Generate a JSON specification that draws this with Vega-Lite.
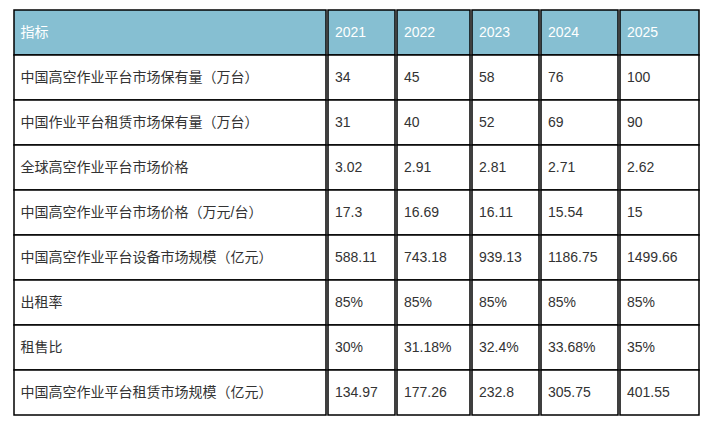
{
  "$schema": "https://vega.github.io/schema/vega-lite/v6.json",
  "padding": {"left": 13, "top": 9, "right": 14, "bottom": 10},
  "background": "white",
  "spacing": 0,
  "data": {"values": [
    {"name": "指标", "c2021": "2021", "c2022": "2022", "c2023": "2023", "c2024": "2024", "c2025": "2025"},
    {"name": "中国高空作业平台市场保有量（万台）", "c2021": "34", "c2022": "45", "c2023": "58", "c2024": "76", "c2025": "100"},
    {"name": "中国作业平台租赁市场保有量（万台）", "c2021": "31", "c2022": "40", "c2023": "52", "c2024": "69", "c2025": "90"},
    {"name": "全球高空作业平台市场价格", "c2021": "3.02", "c2022": "2.91", "c2023": "2.81", "c2024": "2.71", "c2025": "2.62"},
    {"name": "中国高空作业平台市场价格（万元/台）", "c2021": "17.3", "c2022": "16.69", "c2023": "16.11", "c2024": "15.54", "c2025": "15"},
    {"name": "中国高空作业平台设备市场规模（亿元）", "c2021": "588.11", "c2022": "743.18", "c2023": "939.13", "c2024": "1186.75", "c2025": "1499.66"},
    {"name": "出租率", "c2021": "85%", "c2022": "85%", "c2023": "85%", "c2024": "85%", "c2025": "85%"},
    {"name": "租售比", "c2021": "30%", "c2022": "31.18%", "c2023": "32.4%", "c2024": "33.68%", "c2025": "35%"},
    {"name": "中国高空作业平台租赁市场规模（亿元）", "c2021": "134.97", "c2022": "177.26", "c2023": "232.8", "c2024": "305.75", "c2025": "401.55"}
  ]},
  "hconcat": [
    {"width": 312, "height": 405, "layer": [
      {"mark": {"type": "rect", "stroke": "#000000", "strokeWidth": 1.5}, "encoding": {"x": {"value": 0}, "x2": {"value": "width"}, "y": {"field": "name", "type": "nominal", "sort": null, "axis": null, "scale": {"paddingInner": 0, "paddingOuter": 0}}, "fill": {"condition": {"test": "datum.name === '指标'", "value": "#86bfd2"}, "value": "#ffffff"}}},
      {"mark": {"type": "text", "align": "left", "baseline": "middle", "fontSize": 14, "font": "Liberation Sans, Noto Sans CJK SC"}, "encoding": {"x": {"value": 6.5}, "y": {"field": "name", "type": "nominal", "sort": null, "axis": null}, "text": {"field": "name"}, "color": {"condition": {"test": "datum.name === '指标'", "value": "#ffffff"}, "value": "#333333"}}}
    ]},
    {"width": 67, "height": 405, "layer": [
      {"mark": {"type": "rect", "stroke": "#000000", "strokeWidth": 1.5}, "encoding": {"x": {"value": 0}, "x2": {"value": "width"}, "y": {"field": "name", "type": "nominal", "sort": null, "axis": null, "scale": {"paddingInner": 0, "paddingOuter": 0}}, "fill": {"condition": {"test": "datum.name === '指标'", "value": "#86bfd2"}, "value": "#ffffff"}}},
      {"mark": {"type": "text", "align": "left", "baseline": "middle", "fontSize": 14, "font": "Liberation Sans, Noto Sans CJK SC"}, "encoding": {"x": {"value": 7}, "y": {"field": "name", "type": "nominal", "sort": null, "axis": null}, "text": {"field": "c2021"}, "color": {"condition": {"test": "datum.name === '指标'", "value": "#ffffff"}, "value": "#333333"}}}
    ]},
    {"width": 73, "height": 405, "layer": [
      {"mark": {"type": "rect", "stroke": "#000000", "strokeWidth": 1.5}, "encoding": {"x": {"value": 0}, "x2": {"value": "width"}, "y": {"field": "name", "type": "nominal", "sort": null, "axis": null, "scale": {"paddingInner": 0, "paddingOuter": 0}}, "fill": {"condition": {"test": "datum.name === '指标'", "value": "#86bfd2"}, "value": "#ffffff"}}},
      {"mark": {"type": "text", "align": "left", "baseline": "middle", "fontSize": 14, "font": "Liberation Sans, Noto Sans CJK SC"}, "encoding": {"x": {"value": 7}, "y": {"field": "name", "type": "nominal", "sort": null, "axis": null}, "text": {"field": "c2022"}, "color": {"condition": {"test": "datum.name === '指标'", "value": "#ffffff"}, "value": "#333333"}}}
    ]},
    {"width": 67, "height": 405, "layer": [
      {"mark": {"type": "rect", "stroke": "#000000", "strokeWidth": 1.5}, "encoding": {"x": {"value": 0}, "x2": {"value": "width"}, "y": {"field": "name", "type": "nominal", "sort": null, "axis": null, "scale": {"paddingInner": 0, "paddingOuter": 0}}, "fill": {"condition": {"test": "datum.name === '指标'", "value": "#86bfd2"}, "value": "#ffffff"}}},
      {"mark": {"type": "text", "align": "left", "baseline": "middle", "fontSize": 14, "font": "Liberation Sans, Noto Sans CJK SC"}, "encoding": {"x": {"value": 7}, "y": {"field": "name", "type": "nominal", "sort": null, "axis": null}, "text": {"field": "c2023"}, "color": {"condition": {"test": "datum.name === '指标'", "value": "#ffffff"}, "value": "#333333"}}}
    ]},
    {"width": 77, "height": 405, "layer": [
      {"mark": {"type": "rect", "stroke": "#000000", "strokeWidth": 1.5}, "encoding": {"x": {"value": 0}, "x2": {"value": "width"}, "y": {"field": "name", "type": "nominal", "sort": null, "axis": null, "scale": {"paddingInner": 0, "paddingOuter": 0}}, "fill": {"condition": {"test": "datum.name === '指标'", "value": "#86bfd2"}, "value": "#ffffff"}}},
      {"mark": {"type": "text", "align": "left", "baseline": "middle", "fontSize": 14, "font": "Liberation Sans, Noto Sans CJK SC"}, "encoding": {"x": {"value": 7}, "y": {"field": "name", "type": "nominal", "sort": null, "axis": null}, "text": {"field": "c2024"}, "color": {"condition": {"test": "datum.name === '指标'", "value": "#ffffff"}, "value": "#333333"}}}
    ]},
    {"width": 79, "height": 405, "layer": [
      {"mark": {"type": "rect", "stroke": "#000000", "strokeWidth": 1.5}, "encoding": {"x": {"value": 0}, "x2": {"value": "width"}, "y": {"field": "name", "type": "nominal", "sort": null, "axis": null, "scale": {"paddingInner": 0, "paddingOuter": 0}}, "fill": {"condition": {"test": "datum.name === '指标'", "value": "#86bfd2"}, "value": "#ffffff"}}},
      {"mark": {"type": "text", "align": "left", "baseline": "middle", "fontSize": 14, "font": "Liberation Sans, Noto Sans CJK SC"}, "encoding": {"x": {"value": 7}, "y": {"field": "name", "type": "nominal", "sort": null, "axis": null}, "text": {"field": "c2025"}, "color": {"condition": {"test": "datum.name === '指标'", "value": "#ffffff"}, "value": "#333333"}}}
    ]}
  ],
  "config": {"view": {"stroke": null}, "concat": {"spacing": 0}}
}
